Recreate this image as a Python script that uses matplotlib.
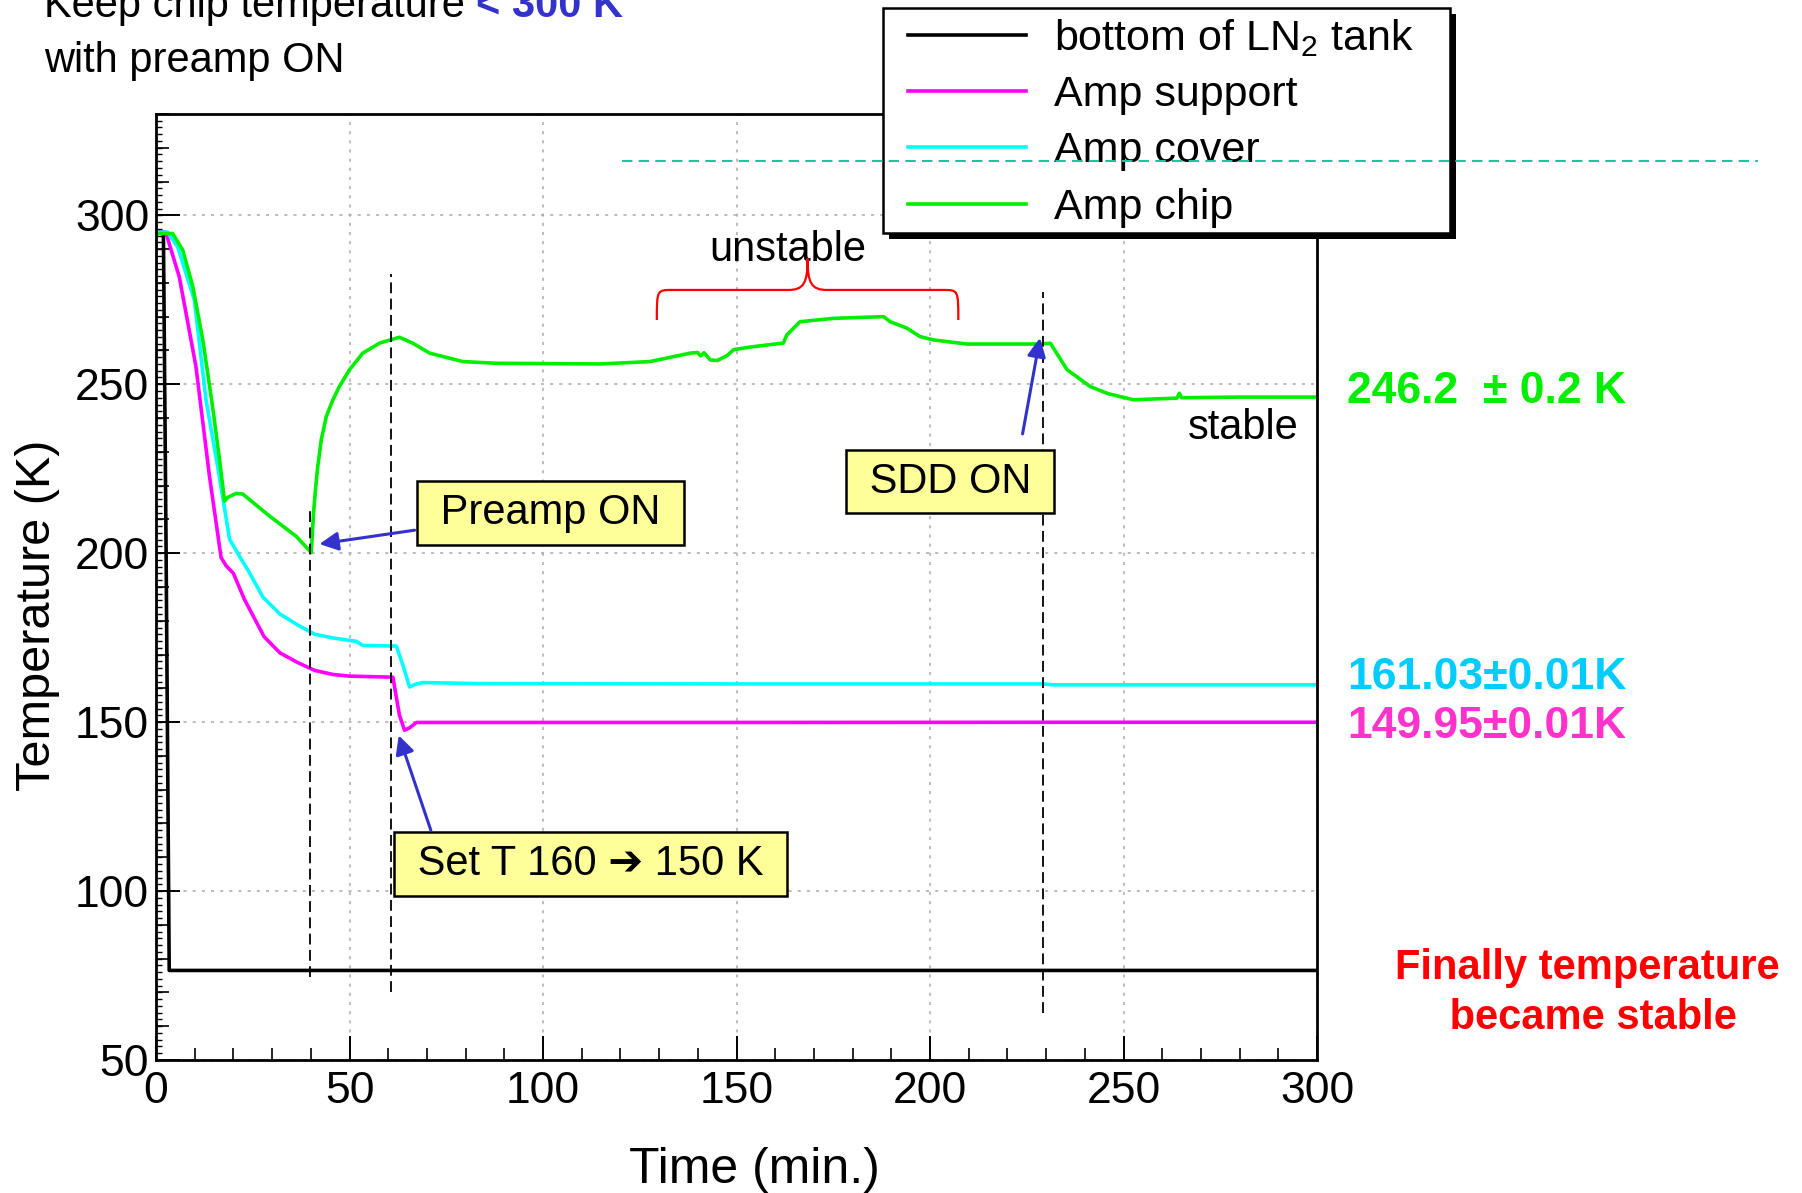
import matplotlib
matplotlib.use("Agg")
import matplotlib.pyplot as plt
import matplotlib.patheffects as pe
from matplotlib.lines import Line2D
from matplotlib.path import Path
from matplotlib.patches import PathPatch, Rectangle
from matplotlib.ticker import MultipleLocator

plt.rcParams["font.family"] = ["Liberation Sans", "DejaVu Sans"]
plt.rcParams["mathtext.default"] = "regular"

# ---- temperature logs (time in min, temperature in K) ----
t_tank = [0, 1.9, 2.6, 3.4, 300]
T_tank = [295.0, 295.0, 200.0, 76.5, 76.5]

t_support = [0, 2.5, 6.0, 10.3, 13.8, 16.8, 18.1, 20.0, 22.8, 27.9, 32.0, 36.8,
             41.0, 45.7, 50.0, 61.2, 62.9, 64.2, 65.5, 67.3, 150, 229, 300]
T_support = [295.0, 295.0, 281.8, 255.3, 222.8, 198.7, 196.3, 194.0, 186.4, 175.3,
             170.5, 167.5, 165.3, 164.1, 163.6, 163.3, 152.0, 147.6, 148.3, 149.9,
             149.9, 149.95, 149.95]

t_cover = [0, 3.0, 5.6, 9.9, 12.9, 15.9, 19.0, 21.5, 24.0, 27.6, 32.0, 36.8, 41.0,
           45.7, 51.7, 53.4, 62.1, 63.8, 65.5, 67.0, 69.0, 82.8, 150, 229, 232, 300]
T_cover = [295.0, 295.0, 290.6, 274.9, 245.4, 225.8, 204.1, 199.2, 194.5, 187.0,
           182.0, 178.6, 176.0, 174.9, 173.9, 172.7, 172.5, 166.8, 160.4, 161.2,
           161.7, 161.4, 161.3, 161.3, 161.03, 161.03]

t_chip = [0, 4.3, 6.9, 9.5, 12.1, 14.6, 16.4, 17.7, 18.5, 20.7, 22.4, 29.3, 36.2,
          40.1, 40.4, 40.7, 41.2, 41.8, 42.7, 44.0, 45.7, 47.4, 50.0, 53.4, 57.8,
          62.9, 66.4, 70.7, 79.3, 88.0, 114.7, 127.6, 138.0, 139.9, 140.7, 141.6,
          143.2, 145.0, 147.6, 149.2, 153.5, 162.1, 163.0, 166.4, 175.0, 188.0,
          189.7, 194.0, 197.4, 200.9, 209.5, 226.7, 231.1, 235.4, 241.4, 246.0,
          252.6, 263.8, 264.4, 265.0, 280.0, 300.0]
T_chip = [294.6, 294.6, 289.7, 278.9, 263.0, 243.4, 227.7, 215.4, 216.5, 217.7,
          217.5, 211.0, 205.0, 200.2, 206.0, 212.0, 218.9, 225.8, 233.6, 240.5,
          245.4, 249.4, 254.3, 259.2, 262.2, 263.9, 262.1, 259.2, 256.7, 256.2,
          256.0, 256.7, 259.2, 259.4, 258.4, 259.3, 257.2, 257.0, 258.5, 260.2,
          261.0, 262.2, 264.6, 268.5, 269.5, 270.0, 268.5, 266.6, 264.1, 263.1,
          261.9, 261.9, 262.1, 254.3, 249.3, 247.2, 245.4, 245.9, 247.3, 246.0,
          246.2, 246.2]

series = [
    (t_tank, T_tank, "black", "bottom of LN$_2$ tank"),
    (t_support, T_support, "#FF00FF", "Amp support"),
    (t_cover, T_cover, "#00FFFF", "Amp cover"),
    (t_chip, T_chip, "#00EE00", "Amp chip"),
]

# event markers: (time, lower T, upper T)
events = [(39.8, 74.5, 212.5), (60.6, 70.0, 282.6), (229.3, 64.0, 277.4)]

BLUE = "#3333CC"
BOX = dict(boxstyle="square,pad=0.28", facecolor="#FFFF99", edgecolor="black", lw=1.8)

fig = plt.figure(figsize=(18.02, 11.93), dpi=100)
ax = fig.add_axes([0.0866, 0.1115, 0.6443, 0.793])

handles = []
for t, T, c, lab in series:
    h, = ax.plot(t, T, color=c, lw=2.6, label=lab, solid_joinstyle="round")
    handles.append(h)

for x, lo, hi in events:
    ax.plot([x, x], [lo, hi], color="black", lw=1.3, ls=(0, (6, 3)), zorder=3)

ax.set_xlim(0, 300)
ax.set_ylim(50, 330)
ax.xaxis.set_major_locator(MultipleLocator(50))
ax.xaxis.set_minor_locator(MultipleLocator(10))
ax.yaxis.set_major_locator(MultipleLocator(50))
ax.yaxis.set_minor_locator(MultipleLocator(10))
ax.grid(True, which="major", color="#AAAAAA", ls=(0, (2, 4)), lw=1.1)
ax.set_axisbelow(True)
ax.tick_params(which="major", direction="in", length=17, width=1.4,
               labelsize=32, top=False, right=False)
ax.tick_params(axis="x", which="major", pad=8)
ax.tick_params(axis="y", which="major", pad=5)
ax.tick_params(which="minor", direction="in", length=9, width=1.2,
               top=False, right=False)
for s in ax.spines.values():
    s.set_linewidth(2)

# fine ticks along the temperature axis
fine = ax.secondary_yaxis("left")
fine.yaxis.set_major_locator(MultipleLocator(2))
fine.tick_params(direction="in", length=4, width=1, labelleft=False)

ax.set_xlabel("Time (min.)", fontsize=36)
ax.xaxis.set_label_coords(0.515, -0.092)
ax.set_ylabel("Temperature (K)", fontsize=35)
ax.yaxis.set_label_coords(-0.083, 0.47)

# annotation boxes and arrows
ax.text(101.9, 211.9, " Preamp ON ", fontsize=30, ha="center", va="center",
        bbox=BOX, zorder=6)
ax.text(205.2, 221.2, " SDD ON ", fontsize=30, ha="center", va="center",
        bbox=BOX, zorder=6)
ax.text(112.3, 108.0, " Set T 160 \u2794 150 K ", fontsize=30, ha="center",
        va="center", bbox=BOX, zorder=6)
arrows = [((66.8, 206.8), (42.2, 202.7)),
          ((223.9, 235.3), (228.4, 263.7)),
          ((71.0, 118.0), (62.7, 146.1))]
for start, tip in arrows:
    ax.annotate("", xy=tip, xytext=start, zorder=7,
                arrowprops=dict(arrowstyle="-|>", color=BLUE, lw=2.2,
                                mutation_scale=28, shrinkA=0, shrinkB=0))

# brace over the unstable stretch
x0, x1, Tb, Tbar, Ttip = 129.4, 207.3, 269.0, 277.9, 287.2
xm = (x0 + x1) / 2
verts = [(x0, Tb), (x0, Tbar), (x0, Tbar), (x0 + 4, Tbar),
         (xm - 5, Tbar),
         (xm - 1, Tbar), (xm, Tbar + 2), (xm, Ttip),
         (xm, Tbar + 2), (xm + 1, Tbar), (xm + 5, Tbar),
         (x1 - 4, Tbar),
         (x1, Tbar), (x1, Tbar), (x1, Tb)]
codes = [Path.MOVETO, Path.CURVE4, Path.CURVE4, Path.CURVE4,
         Path.LINETO,
         Path.CURVE4, Path.CURVE4, Path.CURVE4,
         Path.CURVE4, Path.CURVE4, Path.CURVE4,
         Path.LINETO,
         Path.CURVE4, Path.CURVE4, Path.CURVE4]
ax.add_patch(PathPatch(Path(verts, codes), fill=False, edgecolor="red", lw=1.6,
                       zorder=5))
ax.text(xm - 5, 286.4, "unstable", fontsize=30, ha="center", va="baseline")
ax.text(281, 233.9, "stable", fontsize=30, ha="center", va="baseline")

# final values
ax.text(307.7, 244.4, "246.2  \u00b1 0.2 K", color="#00EE00", fontsize=32,
        fontweight="bold", va="baseline", clip_on=False)
ax.text(307.7, 159.7, "161.03\u00b10.01K", color="#00CCFF", fontsize=32,
        fontweight="bold", va="baseline", clip_on=False)
ax.text(307.7, 145.4, "149.95\u00b10.01K", color="#FF33CC", fontsize=32,
        fontweight="bold", va="baseline", clip_on=False)

fig.text(0.8807, 0.1676, "Finally temperature\n became stable", color="red",
         fontsize=30, fontweight="bold", ha="center", va="center", linespacing=1.3)

# headline
t1 = fig.text(0.0244, 0.9857, "Keep chip temperature ", fontsize=30, va="baseline")
fig.canvas.draw()
bb = t1.get_window_extent()
fig.text(bb.x1 / fig.bbox.width, 0.9857, "< 300 K", color=BLUE, fontsize=30,
         fontweight="bold", va="baseline")
fig.text(0.0244, 0.9396, "with preamp ON", fontsize=30, va="baseline")

# legend: framed box with a solid drop shadow, entries placed inside it
frame = Rectangle((883 / 1802, 1 - 233 / 1193), 567 / 1802, 225 / 1193,
                  transform=fig.transFigure, facecolor="white", edgecolor="black",
                  lw=1.8, zorder=4)
frame.set_path_effects([
    pe.SimplePatchShadow(offset=(4, -4), shadow_rgbFace="black", alpha=1),
    pe.Normal()])
fig.add_artist(frame)
leg = fig.legend(handles=handles, loc="upper left",
                 bbox_to_anchor=(908 / 1802, 0.986), fontsize=31, frameon=False,
                 handlelength=2.75, handletextpad=0.65, borderpad=0,
                 labelspacing=0.38, borderaxespad=0)
leg.set_zorder(5)

fig.add_artist(Line2D([0.345, 0.9756], [0.865, 0.865], transform=fig.transFigure,
                      color="#19C6A0", lw=1.5, ls=(0, (5, 3)), zorder=20))

fig.savefig("out.png", dpi=100)
